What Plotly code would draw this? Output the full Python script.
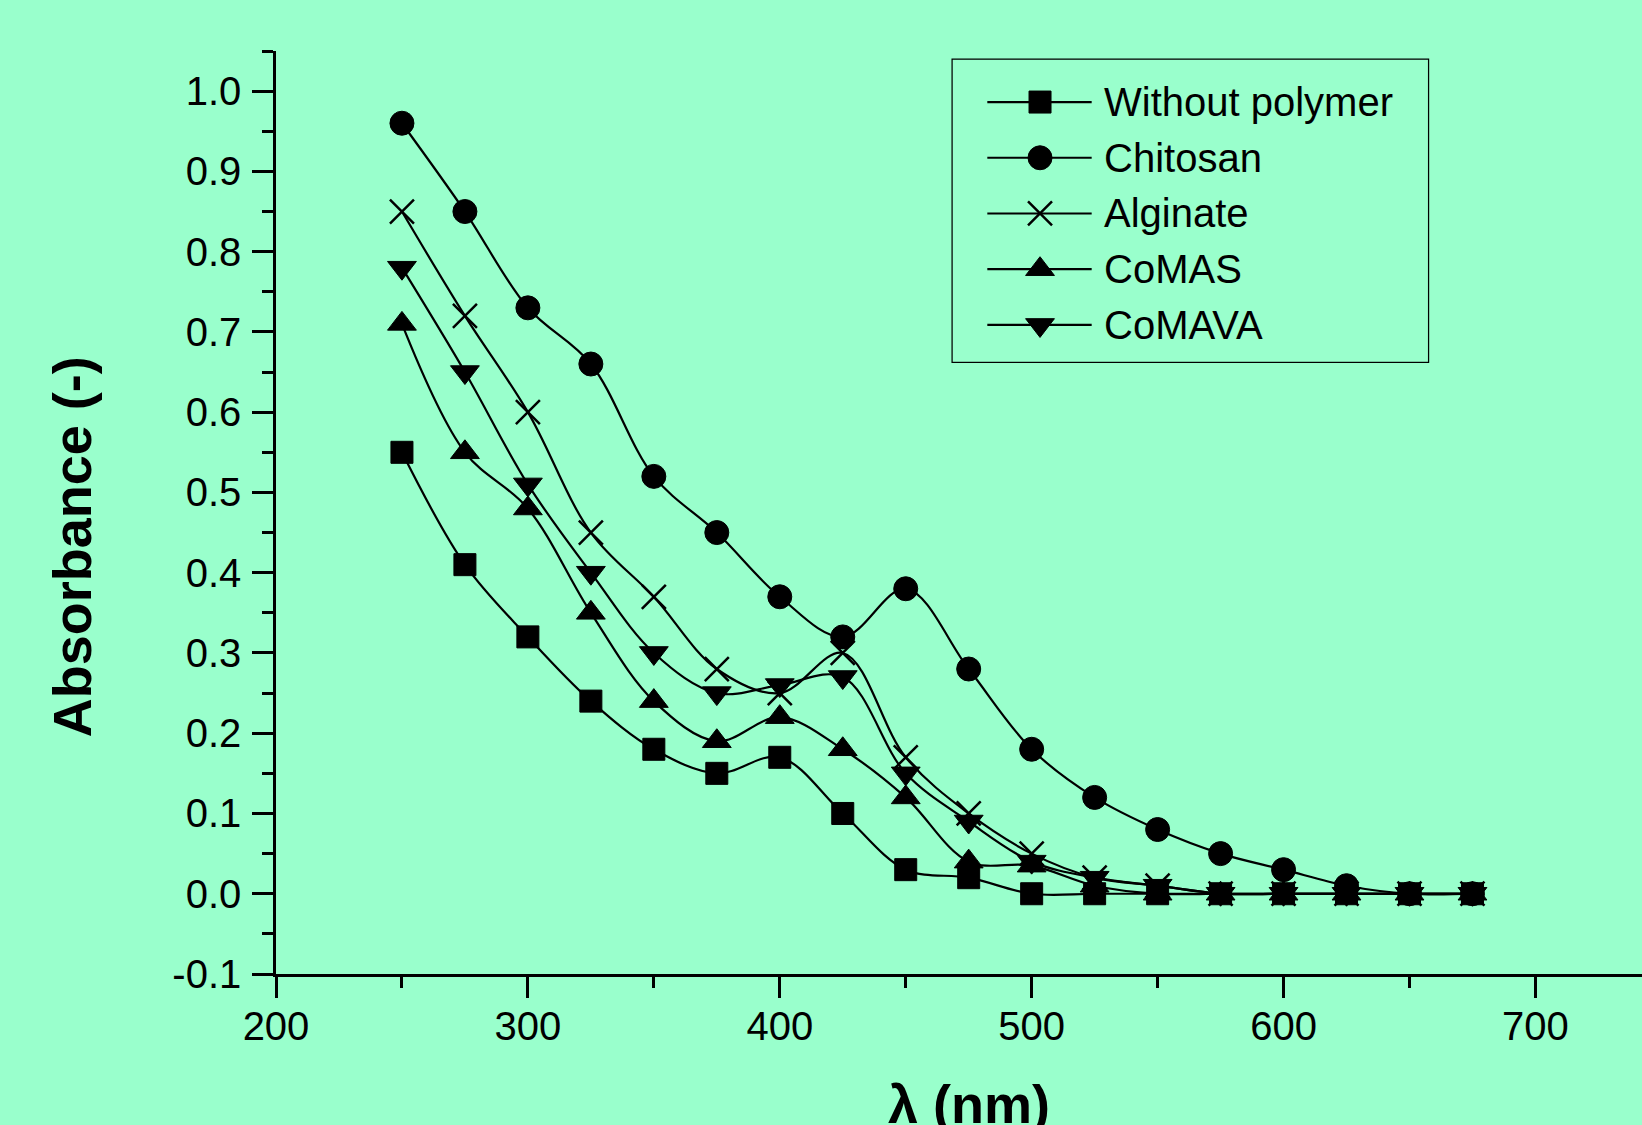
import plotly.graph_objects as go

# ---------------- data ----------------
wavelength = [250, 275, 300, 325, 350, 375, 400, 425, 450, 475, 500, 525, 550, 575, 600, 625, 650, 675]
without_polymer = [0.55, 0.41, 0.32, 0.24, 0.18, 0.15, 0.17, 0.10, 0.03, 0.02, 0.00, 0.00, 0.00, 0.00, 0.00, 0.00, 0.00, 0.00]
chitosan = [0.96, 0.85, 0.73, 0.66, 0.52, 0.45, 0.37, 0.32, 0.38, 0.28, 0.18, 0.12, 0.08, 0.05, 0.03, 0.01, 0.00, 0.00]
alginate = [0.85, 0.72, 0.60, 0.45, 0.37, 0.28, 0.25, 0.30, 0.17, 0.10, 0.05, 0.02, 0.01, 0.00, 0.00, 0.00, 0.00, 0.00]
comas = [0.71, 0.55, 0.48, 0.35, 0.24, 0.19, 0.22, 0.18, 0.12, 0.04, 0.035, 0.01, 0.00, 0.00, 0.00, 0.00, 0.00, 0.00]
comava = [0.78, 0.65, 0.51, 0.40, 0.30, 0.25, 0.26, 0.27, 0.15, 0.09, 0.04, 0.02, 0.01, 0.00, 0.00, 0.00, 0.00, 0.00]

series_names = ["Without polymer", "Chitosan", "Alginate", "CoMAS", "CoMAVA"]
series_values = [without_polymer, chitosan, alginate, comas, comava]

y_tick_vals = [-0.1, 0.0, 0.1, 0.2, 0.3, 0.4, 0.5, 0.6, 0.7, 0.8, 0.9, 1.0]
y_tick_text = ["-0.1", "0.0", "0.1", "0.2", "0.3", "0.4", "0.5", "0.6", "0.7", "0.8", "0.9", "1.0"]
y_minor_vals = [-0.05, 0.05, 0.15, 0.25, 0.35, 0.45, 0.55, 0.65, 0.75, 0.85, 0.95, 1.05]
x_tick_vals = [200, 300, 400, 500, 600, 700]
x_tick_text = ["200", "300", "400", "500", "600", "700"]
x_minor_vals = [250, 350, 450, 550, 650]

# ---------------- styles ----------------
BG = "#99FFCC"
FONT = "Liberation Sans, Arial, Helvetica, sans-serif"
symbols = ["square", "circle", "x-thin", "triangle-up", "triangle-down"]
sizes = [22, 24, 24, 25, 25]


def marker_style(i):
    sym = symbols[i]
    if sym == "x-thin":
        return dict(symbol=sym, size=sizes[i], color="black",
                    line=dict(color="black", width=2.5))
    return dict(symbol=sym, size=sizes[i], color="black",
                line=dict(color="black", width=1))


fig = go.Figure()

for i, (name, vals) in enumerate(zip(series_names, series_values)):
    fig.add_trace(go.Scatter(
        x=wavelength, y=vals, name=name, mode="lines+markers",
        line=dict(color="black", width=2.2, shape="spline", smoothing=1.0),
        marker=marker_style(i), showlegend=False, cliponaxis=False,
    ))

# ---------------- custom legend (separate small subplot) ----------------
row_top = 0.860
row_step = 0.1845
line_x0, line_x1, mark_x, text_x = 0.0728, 0.2924, 0.1837, 0.315
for i, name in enumerate(series_names):
    ry = row_top - i * row_step
    fig.add_trace(go.Scatter(
        x=[line_x0, mark_x, line_x1], y=[ry, ry, ry],
        mode="lines", line=dict(color="black", width=2.2),
        xaxis="x2", yaxis="y2", showlegend=False, hoverinfo="skip",
    ))
    fig.add_trace(go.Scatter(
        x=[mark_x], y=[ry], mode="markers", marker=marker_style(i),
        xaxis="x2", yaxis="y2", showlegend=False, hoverinfo="skip",
    ))
    fig.add_annotation(
        x=text_x, y=ry, xref="x2", yref="y2", text=name, showarrow=False,
        xanchor="left", yanchor="middle",
        font=dict(family=FONT, size=40, color="black"),
    )

fig.add_shape(
    type="rect", xref="x2 domain", yref="y2 domain", x0=0, x1=1, y0=0, y1=1,
    fillcolor="white", line=dict(color="black", width=2.5), layer="below",
)

# ---------------- axis titles as annotations ----------------
fig.add_annotation(
    x=-0.1497, y=0.4629, xref="paper", yref="paper", text="<b>Absorbance (-)</b>",
    textangle=-90, showarrow=False, xanchor="center", yanchor="middle",
    font=dict(family=FONT, size=54, color="black"),
)
fig.add_annotation(
    x=0.5073, y=-0.1405, xref="paper", yref="paper", text="<b>λ (nm)</b>",
    showarrow=False, xanchor="center", yanchor="middle",
    font=dict(family=FONT, size=54, color="black"),
)

axis_common = dict(
    showline=True, linecolor="black", linewidth=2.5,
    ticks="outside", ticklen=21, tickwidth=2.5, tickcolor="black",
    showgrid=False, zeroline=False,
    tickfont=dict(family=FONT, size=40, color="black"),
)

fig.update_layout(
    width=1642, height=1125,
    margin=dict(l=276, r=0, t=51, b=151, pad=0),
    paper_bgcolor=BG, plot_bgcolor=BG,
    showlegend=False,
    xaxis=dict(
        range=[200, 742.3], tickmode="array", tickvals=x_tick_vals, ticktext=x_tick_text,
        minor=dict(tickmode="array", tickvals=x_minor_vals, ticks="outside",
                   ticklen=11, tickwidth=2.5, tickcolor="black", showgrid=False),
        ticklabelstandoff=-6,
        **axis_common,
    ),
    yaxis=dict(
        range=[-0.1, 1.05], tickmode="array", tickvals=y_tick_vals, ticktext=y_tick_text,
        minor=dict(tickmode="array", tickvals=y_minor_vals, ticks="outside",
                   ticklen=11, tickwidth=2.5, tickcolor="black", showgrid=False),
        ticklabelstandoff=3,
        **axis_common,
    ),
    xaxis2=dict(domain=[0.4954, 0.8433], range=[0, 1], visible=False, anchor="y2",
                fixedrange=True),
    yaxis2=dict(domain=[0.6633, 0.9905], range=[0, 1], visible=False, anchor="x2",
                fixedrange=True),
)

fig.write_html("out.html")
